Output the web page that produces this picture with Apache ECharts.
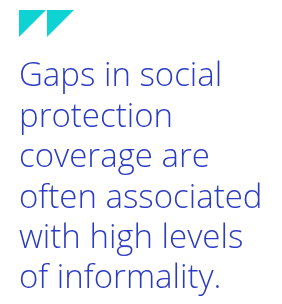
<!DOCTYPE html>
<html>
<head>
<meta charset="utf-8">
<script src="https://cdn.jsdelivr.net/npm/echarts@6/dist/echarts.min.js"></script>
<style>
html,body{margin:0;padding:0;background:#fff;}
#chart{width:282px;height:304px;}
</style>
</head>
<body>
<div id="chart"></div>
<script>
const quoteLines = [
  "Gaps in social",
  "protection",
  "coverage are",
  "often associated",
  "with high levels",
  "of informality."
];
const quoteMarks = [0, 1];

const chart = echarts.init(document.getElementById('chart'), null, {renderer: 'canvas'});
const elements = [];
quoteMarks.forEach(function (i) {
  const x0 = 19 + i * 28;
  elements.push({
    type: 'polygon',
    shape: {points: [[x0, 10], [x0 + 27, 10], [x0, 37]]},
    style: {fill: '#0fd3d3'}
  });
});
quoteLines.forEach(function (t, i) {
  elements.push({
    type: 'text',
    x: 19,
    y: 77 + i * 40.4,
    style: {
      text: t,
      fill: '#2b3cc3',
      fontFamily: 'Open Sans',
      fontSize: 33,
      fontWeight: 300,
      verticalAlign: 'middle',
      align: 'left'
    }
  });
});
chart.setOption({graphic: {elements: elements}});
</script>
</body>
</html>
